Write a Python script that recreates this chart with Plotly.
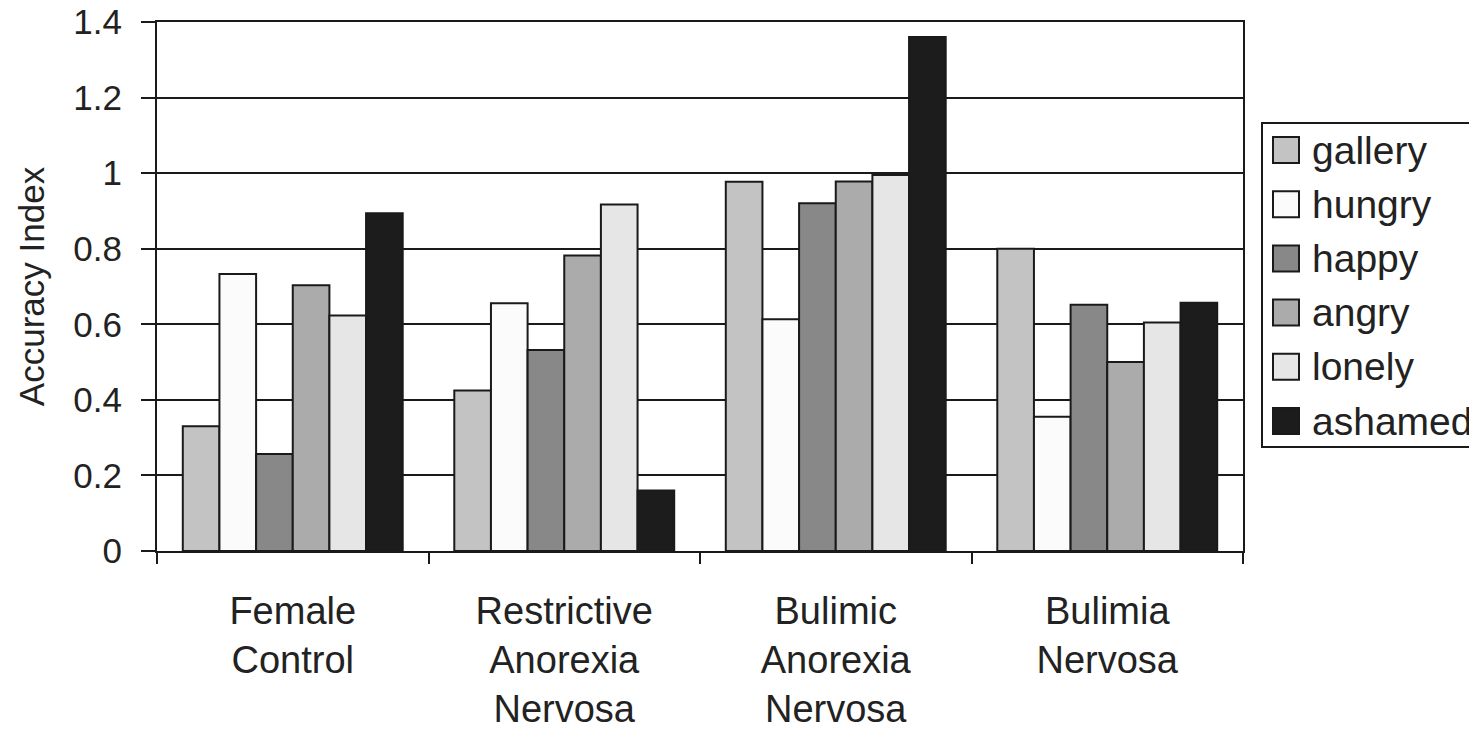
import plotly.graph_objects as go

categories = ["Female<br>Control", "Restrictive<br>Anorexia<br>Nervosa",
              "Bulimic<br>Anorexia<br>Nervosa", "Bulimia<br>Nervosa"]
series_names = ["gallery", "hungry", "happy", "angry", "lonely", "ashamed"]
gallery = [0.33, 0.425, 0.977, 0.80]
hungry = [0.733, 0.656, 0.613, 0.355]
happy = [0.257, 0.532, 0.92, 0.652]
angry = [0.703, 0.782, 0.978, 0.50]
lonely = [0.623, 0.917, 0.995, 0.605]
ashamed = [0.894, 0.16, 1.36, 0.657]
series_values = [gallery, hungry, happy, angry, lonely, ashamed]
colors = ["#c3c3c3", "#fbfbfb", "#888888", "#ababab", "#e6e6e6", "#1c1c1c"]

W, H = 1469, 729
L, R, T, B = 157, 226, 22, 178
PW, PH = W - L - R, H - T - B

FONT = "Liberation Sans, Arial, Helvetica, sans-serif"
TXT = "#222222"

fig = go.Figure()
for name, vals, col in zip(series_names, series_values, colors):
    fig.add_trace(go.Bar(
        x=categories, y=vals, name=name,
        marker=dict(color=col, line=dict(color="#1a1a1a", width=2)),
        showlegend=False,
    ))

def px_x(p):
    return (p - L) / PW

def px_y(p):
    return (H - B - p) / PH

shapes = []
annotations = []
# legend box
shapes.append(dict(type="rect", xref="paper", yref="paper",
                   x0=px_x(1262), x1=px_x(1600), y0=px_y(447), y1=px_y(123),
                   line=dict(color="#1a1a1a", width=2), fillcolor="white", layer="above"))
for i, (name, col) in enumerate(zip(series_names, colors)):
    cy = 150 + i * 54.2
    shapes.append(dict(type="rect", xref="paper", yref="paper",
                       x0=px_x(1273), x1=px_x(1299), y0=px_y(cy + 13), y1=px_y(cy - 13),
                       line=dict(color="#1a1a1a", width=2), fillcolor=col, layer="above"))
    annotations.append(dict(xref="paper", yref="paper", x=px_x(1310), y=px_y(cy),
                            xanchor="left", yanchor="middle", showarrow=False,
                            text=name, font=dict(family=FONT, size=39, color=TXT)))

fig.update_layout(
    width=W, height=H,
    margin=dict(l=L, r=R, t=T, b=B, autoexpand=False),
    paper_bgcolor="white", plot_bgcolor="white",
    barmode="group", bargap=0.19, bargroupgap=0,
    font=dict(family=FONT, size=35, color=TXT),
    shapes=shapes, annotations=annotations,
    showlegend=False,
)
fig.update_xaxes(
    type="category", tickson="boundaries", ticks="outside", ticklen=11,
    tickwidth=2, tickcolor="#1a1a1a", showline=True, linecolor="#1a1a1a",
    linewidth=2, mirror=True, showgrid=False, ticklabelstandoff=25,
    tickfont=dict(family=FONT, size=38, color=TXT),
)
fig.update_yaxes(
    range=[0, 1.4], dtick=0.2, ticks="outside", ticklen=14, tickwidth=2,
    tickcolor="#1a1a1a", showline=True, linecolor="#1a1a1a", linewidth=2,
    mirror=True, showgrid=True, gridcolor="#1a1a1a", gridwidth=2,
    zeroline=False, ticklabelstandoff=12,
    tickfont=dict(family=FONT, size=35, color=TXT),
    title=dict(text="Accuracy Index", font=dict(family=FONT, size=35, color=TXT), standoff=18),
)
fig.write_html("out.html", config={"displayModeBar": False},
               post_script="document.body.style.margin='0px';document.body.style.overflow='hidden';")
